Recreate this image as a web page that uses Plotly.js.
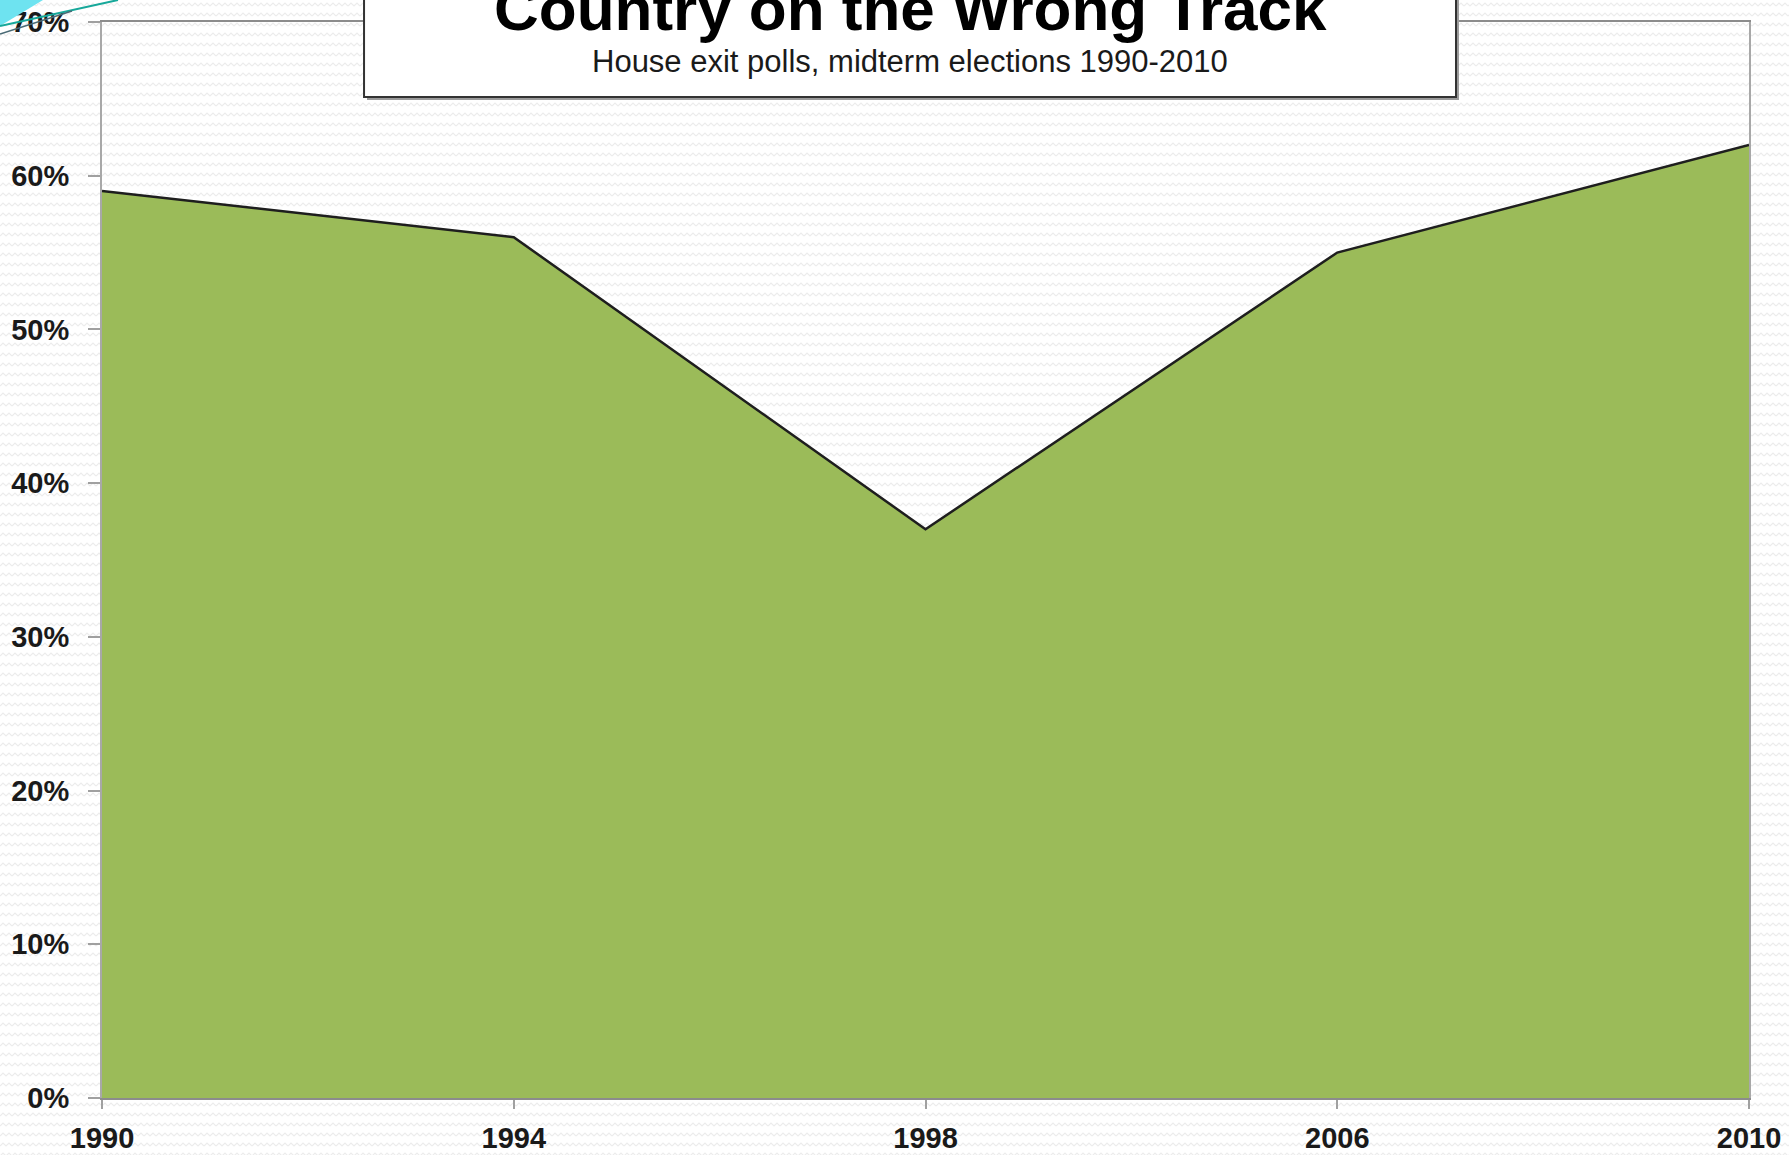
<!DOCTYPE html>
<html>
<head>
<meta charset="utf-8">
<script src="https://cdn.plot.ly/plotly-3.0.1.min.js"></script>
<style>
  body {
    margin: 0;
    background-color: #fff;
    background-image: url("data:image/svg+xml;utf8,<svg xmlns='http://www.w3.org/2000/svg' width='12' height='10'><path d='M0 6 L3 3 L6 6 L9 3 L12 6' fill='none' stroke='%23ececec' stroke-width='1.2'/></svg>");
  }
  #chart { width: 1789px; height: 1155px; position: relative; }
  #swoosh { position: absolute; left: 0; top: 0; z-index: 10; pointer-events: none; }
</style>
</head>
<body>
<div id="chart"></div>
<!-- slide template corner decoration -->
<svg id="swoosh" width="130" height="40">
  <polygon points="0,0 43,0 0,26" fill="#6ee3f0"/>
  <line x1="0" y1="26" x2="118" y2="0" stroke="#17a89a" stroke-width="2"/>
  <line x1="0" y1="34" x2="72" y2="11" stroke="#4a6a75" stroke-width="1.5"/>
</svg>
<script>
// Country on the wrong track, house exit polls ---------------------
const years = ['1990', '1994', '1998', '2006', '2010'];
const wrongTrack = [59, 56, 37, 55, 62]; // percent

const trace1 = {
    type: 'scatter',
    x: years,
    y: wrongTrack,
    mode: 'lines',
    fill: 'tozeroy',
    fillcolor: '#9bbb59',
    line: {
        color: '#1e1e1e',
        width: 2.5
    },
    hoverinfo: 'x+y'
};

const tickFont = {
    family: 'Liberation Sans, Arial, sans-serif',
    size: 29,
    color: '#1a1a1a',
    weight: 'bold'
};

const layout = {
    width: 1789,
    height: 1155,
    margin: { l: 102, r: 40, t: 22, b: 57 },
    paper_bgcolor: 'rgba(0,0,0,0)',
    plot_bgcolor: 'rgba(0,0,0,0)',
    showlegend: false,
    xaxis: {
        type: 'category',
        range: [0, 4],
        showgrid: false,
        zeroline: false,
        showline: true,
        mirror: true,
        linecolor: '#8c8c8c',
        linewidth: 2,
        ticks: 'outside',
        ticklen: 9,
        tickwidth: 1.5,
        tickcolor: '#a0a0a0',
        ticklabelstandoff: 4,
        tickfont: tickFont
    },
    yaxis: {
        range: [0, 70],
        dtick: 10,
        ticksuffix: '%',
        showgrid: false,
        zeroline: false,
        showline: true,
        mirror: true,
        linecolor: '#a8a8a8',
        linewidth: 2,
        ticks: 'outside',
        ticklen: 12,
        tickwidth: 1.5,
        tickcolor: '#a0a0a0',
        ticklabelstandoff: 13,
        tickfont: tickFont
    },
    shapes: [
        // title box shadow then box
        {
            type: 'rect', xref: 'paper', yref: 'paper', layer: 'above',
            x0: 0.1609, x1: 0.8239, y0: 0.9275, y1: 1.03,
            fillcolor: '#9a9a9a', line: { width: 0 }
        },
        {
            type: 'rect', xref: 'paper', yref: 'paper', layer: 'above',
            x0: 0.1591, x1: 0.8221, y0: 0.9303, y1: 1.03,
            fillcolor: '#ffffff', line: { color: '#333333', width: 2 }
        }
    ],
    annotations: [
        {
            xref: 'paper', yref: 'paper', x: 0.4906, y: 1.0125,
            xanchor: 'center', yanchor: 'middle', showarrow: false,
            text: '<b>Country on the Wrong Track</b>',
            font: { family: 'Liberation Sans, Arial, sans-serif', size: 62, color: '#000' }
        },
        {
            xref: 'paper', yref: 'paper', x: 0.4906, y: 0.9635,
            xanchor: 'center', yanchor: 'middle', showarrow: false,
            text: 'House exit polls, midterm elections 1990-2010',
            font: { family: 'Liberation Sans, Arial, sans-serif', size: 31, color: '#1a1a1a' }
        }
    ]
};

Plotly.newPlot('chart', [trace1], layout, { displayModeBar: false });
</script>
</body>
</html>
